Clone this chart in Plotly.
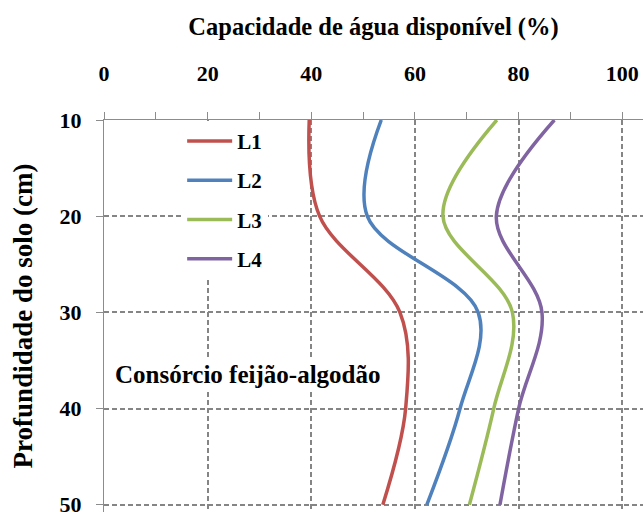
import plotly.graph_objects as go

depth = [10, 20, 30, 40, 50]
L1 = [39.6, 41.6, 57.1, 58.2, 53.8]
L2 = [53.5, 50.8, 72.2, 68.7, 62.3]
L3 = [75.8, 65.4, 78.8, 75.2, 70.5]
L4 = [86.9, 75.7, 84.5, 80.0, 76.4]
series = {"L1": L1, "L2": L2, "L3": L3, "L4": L4}
colors = {"L1": "#C0504D", "L2": "#4F81BD", "L3": "#9BBB59", "L4": "#8064A2"}
x_ticks = [0, 20, 40, 60, 80, 100]
y_ticks = [10, 20, 30, 40, 50]

FONT = "Liberation Serif"
fig = go.Figure()
for name, vals in series.items():
    fig.add_trace(go.Scatter(
        x=vals, y=depth, name=name, mode="lines", legendgroup=name,
        line=dict(color=colors[name], width=3.5, shape="spline", smoothing=1.0),
    ))

axis_common = dict(
    showline=True, linecolor="#8c8c8c", linewidth=1, automargin=False,
    showgrid=True, gridcolor="#858585", gridwidth=1.5, griddash="5px,3px",
    zeroline=False, ticks="outside", tickcolor="#8c8c8c", ticklen=7,
    ticklabeloverflow="allow",
    tickfont=dict(family=FONT, size=22, color="black", weight="bold"),
)

fig.update_layout(
    width=643, height=512,
    margin=dict(l=104, r=0, t=119.5, b=0, autoexpand=False),
    paper_bgcolor="white", plot_bgcolor="white",
    showlegend=True,
    legend=dict(
        x=0.145, y=0.998, xanchor="left", yanchor="top",
        bgcolor="white", borderwidth=0, tracegroupgap=9, itemwidth=45,
        font=dict(family=FONT, size=21, color="black", weight="bold"),
    ),
    xaxis=dict(
        axis_common, side="top", range=[0, 104], tickvals=x_ticks,
        ticklabelstandoff=22,
        minor=dict(dtick=10, tick0=0, ticks="outside", ticklen=7, tickcolor="#8c8c8c", showgrid=False),
        title=dict(text="Capacidade de água disponível (%)", standoff=18,
                   font=dict(family=FONT, size=24.5, color="black", weight="bold")),
    ),
    yaxis=dict(
        axis_common, range=[50.76, 10], tickvals=y_ticks,
        ticklabelstandoff=10,
        title=dict(text="Profundidade do solo (cm)", standoff=19,
                   font=dict(family=FONT, size=27, color="black", weight="bold")),
    ),
)

fig.add_annotation(
    x=27.8, y=36.5, xref="x", yref="y", text="Consórcio feijão-algodão",
    showarrow=False, bgcolor="white",
    font=dict(family=FONT, size=25, color="black", weight="bold"),
)

fig.write_html("out.html", config={"displayModeBar": False},
               post_script="document.body.style.margin='0';")
